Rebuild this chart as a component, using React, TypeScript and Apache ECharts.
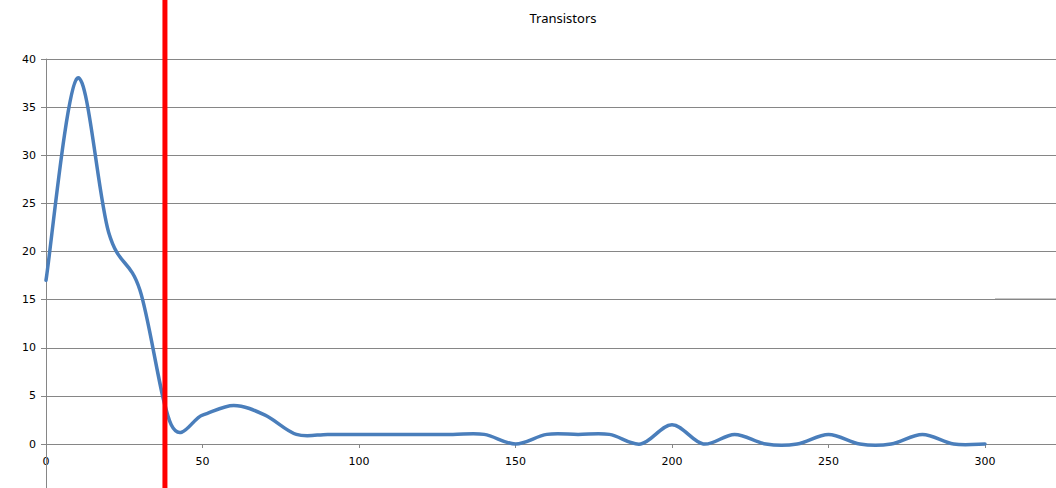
import React, { useEffect, useRef } from "react";
import * as echarts from "echarts";

const TITLE = "Transistors";
const X_VALUES = [0, 10, 20, 30, 40, 50, 60, 70, 80, 90, 100, 110, 120, 130, 140, 150, 160, 170, 180, 190, 200, 210, 220, 230, 240, 250, 260, 270, 280, 290, 300];
const Y_VALUES = [17, 38, 22, 16, 2, 3, 4, 3, 1, 1, 1, 1, 1, 1, 1, 0, 1, 1, 1, 0, 2, 0, 1, 0, 0, 1, 0, 0, 1, 0, 0];
const RED_X = 38;
const X_MIN = 0;
const X_MAX = 350;
const X_INTERVAL = 50;
const Y_MIN = 0;
const Y_MAX = 40;
const Y_INTERVAL = 5;

const GRID_COLOR = "#868686";
const LINE_COLOR = "#4a7ebb";
const LABEL_FONT = "DejaVu Sans";

export default function App() {
  const ref = useRef<HTMLDivElement>(null);

  useEffect(() => {
    if (!ref.current) return;
    const chart = echarts.init(ref.current, undefined, { renderer: "svg" });
    const data = X_VALUES.map((x, i) => [x, Y_VALUES[i]]);

    // Excel-like smoothed line (Catmull-Rom as cubic Bezier), positioned via the axes' scales
    const renderItem = (params: any, api: any) => {
      if (params.dataIndex !== 0) return null;
      const pts = data.map((d) => api.coord(d) as number[]);
      const n = pts.length;
      let d = `M${pts[0][0]},${pts[0][1]}`;
      for (let i = 0; i < n - 1; i++) {
        const p0 = pts[Math.max(0, i - 1)];
        const p1 = pts[i];
        const p2 = pts[i + 1];
        const p3 = pts[Math.min(n - 1, i + 2)];
        const c1x = p1[0] + (p2[0] - p0[0]) / 6;
        const c1y = p1[1] + (p2[1] - p0[1]) / 6;
        const c2x = p2[0] - (p3[0] - p1[0]) / 6;
        const c2y = p2[1] - (p3[1] - p1[1]) / 6;
        d += ` C${c1x},${c1y} ${c2x},${c2y} ${p2[0]},${p2[1]}`;
      }
      return {
        type: "path",
        shape: { pathData: d },
        style: { stroke: LINE_COLOR, lineWidth: 3.5, fill: "none", lineJoin: "round", lineCap: "round" },
      };
    };

    chart.setOption({
      animation: false,
      backgroundColor: "#ffffff",
      grid: { left: 46, top: 59, width: 1095.5, height: 385, outerBoundsMode: "none", containLabel: false },
      xAxis: {
        type: "value",
        min: X_MIN,
        max: X_MAX,
        interval: X_INTERVAL,
        axisLine: { show: true, lineStyle: { color: GRID_COLOR, width: 1 } },
        axisTick: { show: true, length: 4, lineStyle: { color: GRID_COLOR } },
        axisLabel: { color: "#000", fontFamily: LABEL_FONT, fontSize: 11, margin: 12, showMaxLabel: false },
        splitLine: { show: false },
      },
      yAxis: {
        type: "value",
        min: Y_MIN,
        max: Y_MAX,
        interval: Y_INTERVAL,
        axisLine: { show: true, lineStyle: { color: GRID_COLOR, width: 1 } },
        axisTick: { show: true, length: 5, lineStyle: { color: GRID_COLOR } },
        axisLabel: { color: "#000", fontFamily: LABEL_FONT, fontSize: 11, margin: 10 },
        splitLine: { show: true, lineStyle: { color: GRID_COLOR, width: 1 } },
      },
      series: [
        {
          type: "custom",
          data,
          encode: { x: 0, y: 1 },
          renderItem,
          clip: false,
          z: 5,
        },
      ],
    });

    const redPx = chart.convertToPixel({ xAxisIndex: 0 }, RED_X) as number;
    const [axisX, zeroY] = chart.convertToPixel({ gridIndex: 0 }, [X_MIN, Y_MIN]) as number[];
    chart.setOption({
      graphic: [
        {
          type: "line",
          z: 1,
          shape: { x1: Math.round(axisX) + 0.5, y1: zeroY, x2: Math.round(axisX) + 0.5, y2: 488 },
          style: { stroke: GRID_COLOR, lineWidth: 1 },
        },
        {
          type: "line",
          z: 100,
          shape: { x1: redPx, y1: 0, x2: redPx, y2: 488 },
          style: { stroke: "#ff0000", lineWidth: 5 },
        },
        {
          type: "text",
          x: 563,
          y: 18,
          style: {
            text: TITLE,
            fill: "#000",
            font: '13px "Noto Sans"',
            textAlign: "center",
            textVerticalAlign: "middle",
          },
        },
        {
          type: "line",
          shape: { x1: 995, y1: 298.5, x2: 1056, y2: 298.5 },
          style: { stroke: "#c8c8c8", lineWidth: 1 },
        },
      ],
    });

    return () => chart.dispose();
  }, []);

  return (
    <div
      ref={ref}
      style={{ position: "absolute", left: 0, top: 0, width: 1056, height: 488, overflow: "hidden" }}
    />
  );
}
